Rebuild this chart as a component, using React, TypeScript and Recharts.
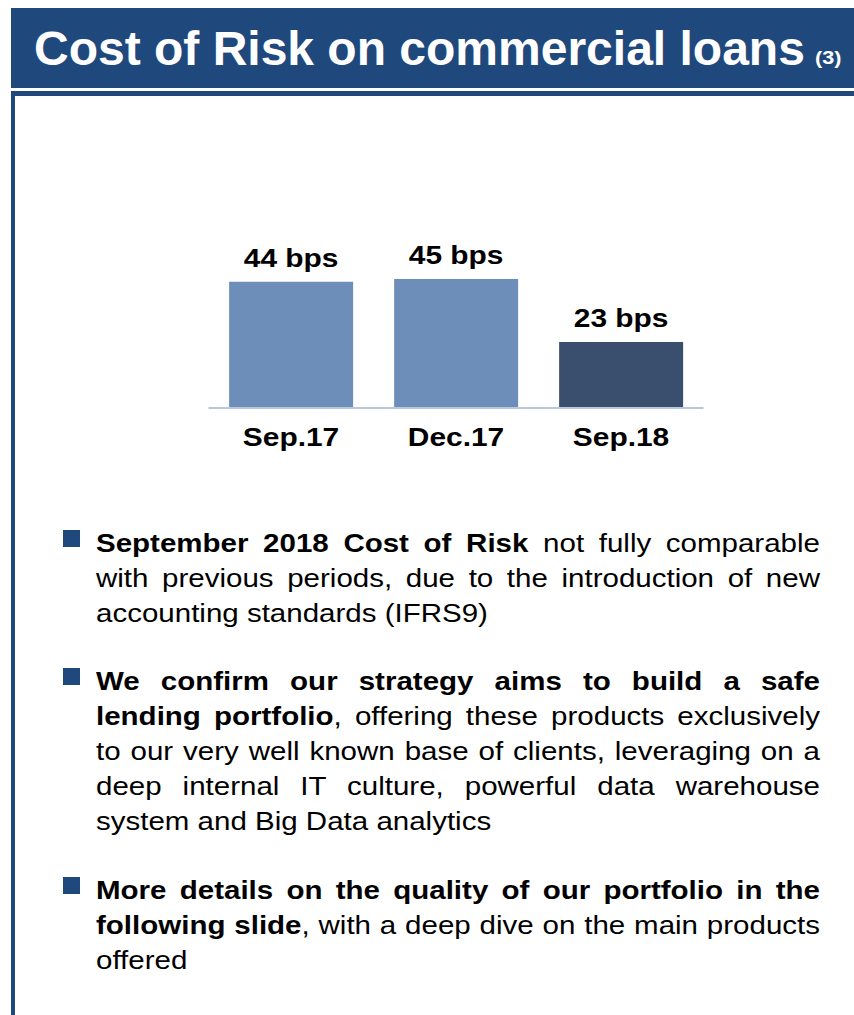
import React from "react";
import { BarChart, Bar, XAxis, YAxis, Cell, LabelList } from "recharts";

const categories = ["Sep.17", "Dec.17", "Sep.18"];
const costOfRisk = [44, 45, 23];
const valueUnit = "bps";

const data = categories.map((name, i) => ({ name, value: costOfRisk[i] }));

const barColors = ["#6E8EBA", "#6E8EBA", "#3A4E6E"];
const navy = "#1F497D";
const font = "'Liberation Sans', Arial, sans-serif";
const stretch = 1.18;
const chartStretch = 1.15;

type Seg = [string, boolean];
const paragraphs: { top: number; lines: Seg[][] }[] = [
  {
    top: 526,
    lines: [
      [["September 2018 Cost of Risk", true], [" not fully comparable", false]],
      [["with previous periods, due to the introduction of new", false]],
      [["accounting standards (IFRS9)", false]],
    ],
  },
  {
    top: 664,
    lines: [
      [["We confirm our strategy aims to build a safe", true]],
      [["lending portfolio", true], [", offering these products exclusively", false]],
      [["to our very well known base of clients, leveraging on a", false]],
      [["deep internal IT culture, powerful data warehouse", false]],
      [["system and Big Data analytics", false]],
    ],
  },
  {
    top: 873,
    lines: [
      [["More details on the quality of our portfolio in the", true]],
      [["following slide", true], [", with a deep dive on the main products", false]],
      [["offered", false]],
    ],
  },
];

const CategoryTick = (props: any) => {
  const { x, y, payload } = props;
  return (
    <text
      transform={`translate(${x},${y + 38}) scale(${chartStretch},1)`}
      textAnchor="middle"
      fontFamily={font}
      fontWeight="bold"
      fontSize={26}
      fill="#000"
    >
      {payload.value}
    </text>
  );
};

const ValueLabel = (props: any) => {
  const { x, y, width, value } = props;
  return (
    <text
      transform={`translate(${x + width / 2},${y - 15}) scale(${chartStretch},1)`}
      textAnchor="middle"
      fontFamily={font}
      fontWeight="bold"
      fontSize={26}
      fill="#000"
    >
      {`${value} ${valueUnit}`}
    </text>
  );
};

export default function App() {
  return (
    <div
      style={{
        position: "absolute",
        left: 0,
        top: 0,
        width: 854,
        height: 1015,
        overflow: "hidden",
        background: "#fff",
        fontFamily: font,
      }}
    >
      {/* title band */}
      <div
        style={{
          position: "absolute",
          left: 11,
          top: 8,
          width: 843,
          height: 80,
          background: navy,
        }}
      />
      <div
        style={{
          position: "absolute",
          left: 34,
          top: 25,
          fontSize: 48,
          lineHeight: "48px",
          fontWeight: "bold",
          color: "#fff",
          whiteSpace: "nowrap",
        }}
      >
        Cost of Risk on commercial loans
      </div>
      <div
        style={{
          position: "absolute",
          left: 815,
          top: 49,
          fontSize: 18,
          lineHeight: "18px",
          fontWeight: "bold",
          color: "#fff",
          transform: "scaleX(1.2)",
          transformOrigin: "0 0",
        }}
      >
        (3)
      </div>
      <div
        style={{
          position: "absolute",
          left: 11,
          top: 91,
          width: 843,
          height: 5,
          background: navy,
        }}
      />
      <div
        style={{
          position: "absolute",
          left: 11,
          top: 91,
          width: 4,
          height: 924,
          background: navy,
        }}
      />

      {/* chart */}
      <div style={{ position: "absolute", left: 200, top: 200 }}>
        <BarChart
          width={520}
          height={300}
          data={data}
          margin={{ top: 36, right: 16.5, left: 8.5, bottom: 0 }}
          barCategoryGap="12.5%"
        >
          <XAxis
            dataKey="name"
            height={92}
            axisLine={{ stroke: "#B9C8DE", strokeWidth: 2 }}
            tickLine={false}
            tickSize={0}
            tickMargin={0}
            tick={<CategoryTick />}
            interval={0}
          />
          <YAxis hide domain={[0, 60]} />
          <Bar dataKey="value" isAnimationActive={false}>
            {data.map((d, i) => (
              <Cell key={d.name} fill={barColors[i]} />
            ))}
            <LabelList dataKey="value" content={<ValueLabel />} />
          </Bar>
        </BarChart>
      </div>

      {/* bullets */}
      {paragraphs.map((p, pi) => (
        <React.Fragment key={pi}>
          <div
            style={{
              position: "absolute",
              left: 63,
              top: p.top + 4,
              width: 17,
              height: 17,
              background: navy,
            }}
          />
          {p.lines.map((line, li) => (
            <div
              key={li}
              style={{
                position: "absolute",
                left: 96,
                top: p.top + li * 35,
                width: 724 / stretch,
                fontSize: 25,
                lineHeight: "35px",
                color: "#000",
                whiteSpace: "nowrap",
                textAlign: "justify",
                textAlignLast: li === p.lines.length - 1 ? "left" : "justify",
                transform: `scaleX(${stretch})`,
                transformOrigin: "0 0",
              }}
            >
              {line.map(([t, b], si) => (
                <span key={si} style={{ fontWeight: b ? "bold" : "normal" }}>
                  {t}
                </span>
              ))}
            </div>
          ))}
        </React.Fragment>
      ))}
    </div>
  );
}
